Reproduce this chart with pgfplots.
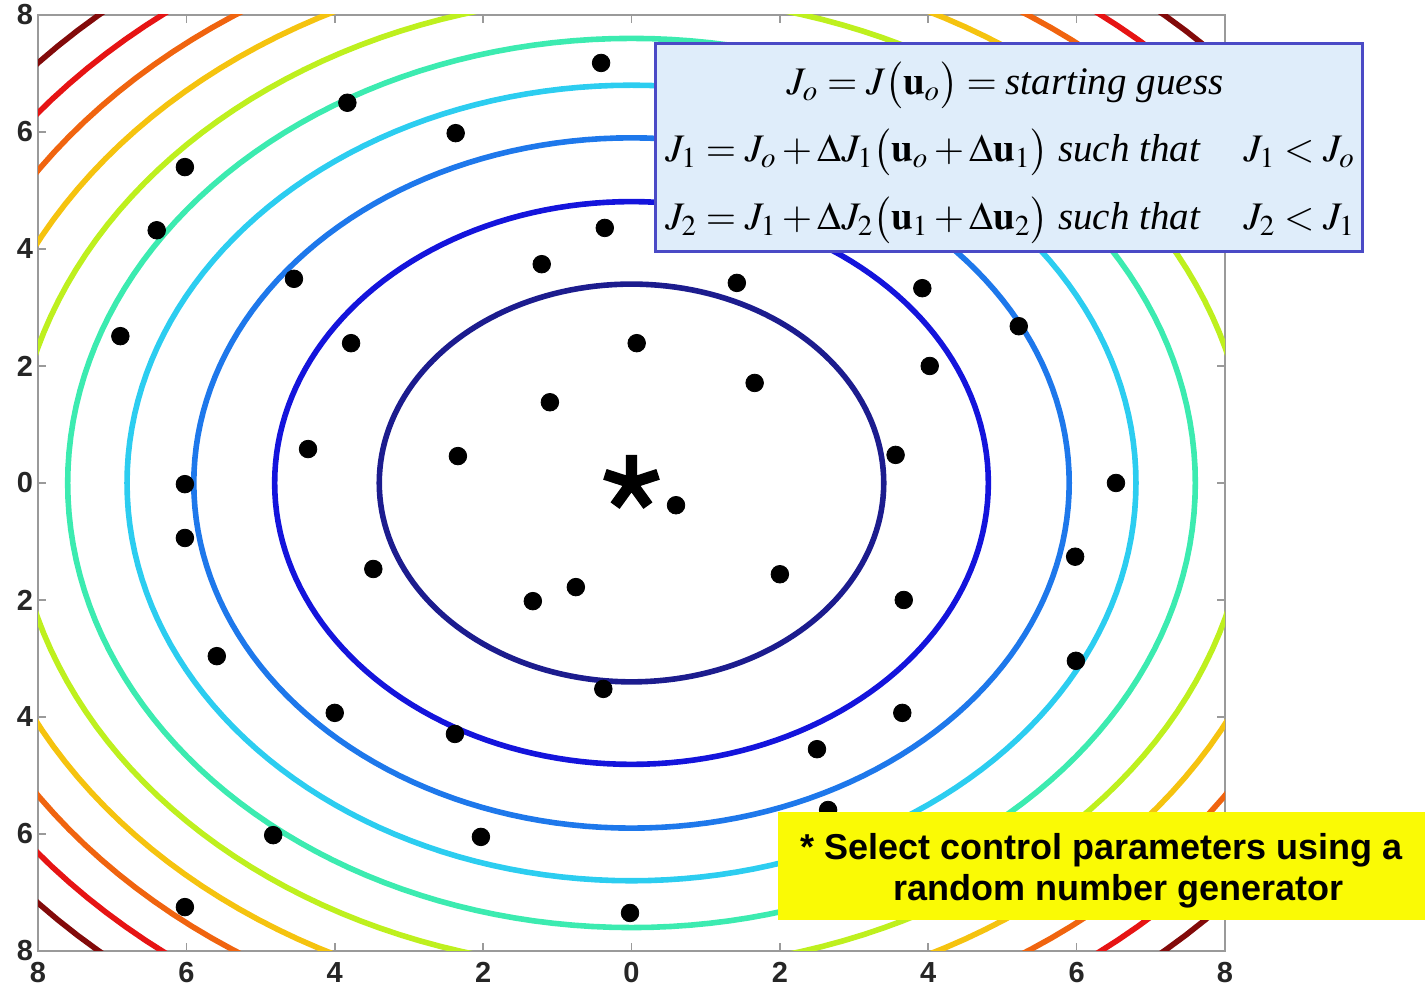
\documentclass[border=0pt]{standalone}
\usepackage{mathptmx}
\usepackage{fontspec}
\setmainfont{Liberation Serif}
\newfontfamily\arialfont{Liberation Sans}
\usepackage{pgfplots}
\pgfplotsset{compat=1.18}

% contour colours, innermost (lowest cost) to outermost
\definecolor{c1}{HTML}{1C1C8E}
\definecolor{c2}{HTML}{1414DC}
\definecolor{c3}{HTML}{1E78EB}
\definecolor{c4}{HTML}{2CCDF0}
\definecolor{c5}{HTML}{3CEBB0}
\definecolor{c6}{HTML}{BEF01E}
\definecolor{c7}{HTML}{F5C30F}
\definecolor{c8}{HTML}{F0640F}
\definecolor{c9}{HTML}{E61414}
\definecolor{c10}{HTML}{820A0A}
\definecolor{framegray}{HTML}{9A9A9A}
\definecolor{boxblue}{HTML}{4A4AC6}
\definecolor{boxfill}{HTML}{DFEDFA}
\definecolor{noteyellow}{HTML}{FAFA05}

% five-armed asterisk marking the optimum
\pgfdeclareplotmark{bigasterisk}{%
  \pgfpathmoveto{\pgfpointorigin}\pgfpathlineto{\pgfpointpolar{90}{\pgfplotmarksize}}%
  \pgfpathmoveto{\pgfpointorigin}\pgfpathlineto{\pgfpointpolar{18}{\pgfplotmarksize}}%
  \pgfpathmoveto{\pgfpointorigin}\pgfpathlineto{\pgfpointpolar{162}{\pgfplotmarksize}}%
  \pgfpathmoveto{\pgfpointorigin}\pgfpathlineto{\pgfpointpolar{234}{\pgfplotmarksize}}%
  \pgfpathmoveto{\pgfpointorigin}\pgfpathlineto{\pgfpointpolar{306}{\pgfplotmarksize}}%
  \pgfusepathqstroke}

% randomly chosen control parameters (u1, u2)
\pgfplotstableread{
x      y
-0.41  7.18
-3.83  6.50
-2.37  5.98
-6.02  5.40
-6.40  4.32
-0.36  4.36
-4.55  3.49
-1.21  3.74
 1.42  3.42
 3.92  3.33
-6.89  2.51
-3.78  2.39
 0.07  2.39
 5.22  2.68
 4.02  2.00
 1.66  1.71
-1.10  1.38
-4.36  0.58
-2.34  0.46
 3.56  0.48
-6.02 -0.02
 6.53  0.00
 0.60 -0.38
-6.02 -0.94
-3.48 -1.47
 5.98 -1.26
-0.75 -1.78
-1.33 -2.02
 2.00 -1.56
 3.67 -2.00
-5.59 -2.96
 5.99 -3.04
-0.38 -3.52
-4.00 -3.93
 3.65 -3.93
-2.38 -4.29
 2.50 -4.55
 2.65 -5.59
-4.83 -6.02
-2.03 -6.05
-6.02 -7.25
-0.02 -7.35
}\samples

\begin{document}
\begin{tikzpicture}
\path[use as bounding box] (-19pt,-18.5pt) rectangle (693.5pt,475.5pt);
\begin{axis}[
  scale only axis,
  width=593.5pt, height=468pt,
  xmin=-8, xmax=8, ymin=-8, ymax=8,
  xtick={-8,-6,...,8}, ytick={-8,-6,...,8},
  xticklabels={8,6,4,2,0,2,4,6,8},
  yticklabels={8,6,4,2,0,2,4,6,8},
  tick align=inside,
  major tick length=4pt,
  every tick/.style={framegray, line width=0.8pt},
  axis line style={framegray, line width=1.1pt},
  ticklabel style={font=\arialfont\bfseries\fontsize{14.5}{16}\selectfont, text=black!85},
  xticklabel style={yshift=-2pt},
  yticklabel style={xshift=1pt},
  clip=true,
]
% contours of constant cost, radius of each level
\addplot[c1,  line width=2.8pt, domain=0:360, samples=181, variable=\t] ({3.40*cos(\t)},{3.40*sin(\t)});
\addplot[c2,  line width=2.8pt, domain=0:360, samples=181, variable=\t] ({4.81*cos(\t)},{4.81*sin(\t)});
\addplot[c3,  line width=2.8pt, domain=0:360, samples=181, variable=\t] ({5.90*cos(\t)},{5.90*sin(\t)});
\addplot[c4,  line width=2.8pt, domain=0:360, samples=181, variable=\t] ({6.80*cos(\t)},{6.80*sin(\t)});
\addplot[c5,  line width=2.8pt, domain=0:360, samples=181, variable=\t] ({7.60*cos(\t)},{7.60*sin(\t)});
\addplot[c6,  line width=2.8pt, domain=0:360, samples=181, variable=\t] ({8.33*cos(\t)},{8.33*sin(\t)});
\addplot[c7,  line width=2.8pt, domain=0:360, samples=181, variable=\t] ({9.00*cos(\t)},{9.00*sin(\t)});
\addplot[c8,  line width=2.8pt, domain=0:360, samples=181, variable=\t] ({9.62*cos(\t)},{9.62*sin(\t)});
\addplot[c9,  line width=2.8pt, domain=0:360, samples=181, variable=\t] ({10.20*cos(\t)},{10.20*sin(\t)});
\addplot[c10, line width=2.8pt, domain=0:360, samples=181, variable=\t] ({10.75*cos(\t)},{10.75*sin(\t)});
% sampled points
\addplot[only marks, mark=*, mark size=4.4pt, black] table {\samples};
% optimum
\addplot[only marks, mark=bigasterisk, mark size=14pt, black, line width=5.6pt] coordinates {(0,0)};
\end{axis}

% iteration rule
\node[draw=boxblue, line width=1.5pt, fill=boxfill, minimum width=353.5pt, minimum height=104pt,
      inner sep=0pt] at (485.25pt,401.5pt) {};
\begin{scope}[every node/.style={inner sep=0pt, font=\fontsize{19.5}{22}\selectfont}]
\node[anchor=base] at (483.5pt,428pt)
  {$J_o = J\bigl(\mathbf{u}_o\bigr) = \textit{starting guess}$};
\node[anchor=base west] at (313.5pt,394.5pt)
  {$J_1 = J_o + \Delta J_1\bigl(\mathbf{u}_o + \Delta\mathbf{u}_1\bigr)$ \textit{such that}\hspace{1.1em}$J_1 < J_o$};
\node[anchor=base west] at (313.5pt,360.5pt)
  {$J_2 = J_1 + \Delta J_2\bigl(\mathbf{u}_1 + \Delta\mathbf{u}_2\bigr)$ \textit{such that}\hspace{1.1em}$J_2 < J_1$};
\end{scope}

% note
\fill[noteyellow] (370pt,15.5pt) rectangle (693.5pt,69.5pt);
\begin{scope}[every node/.style={inner sep=0pt, font=\arialfont\bfseries\fontsize{18}{21}\selectfont}]
\node[anchor=base] at (531.75pt,45.5pt) {* Select control parameters using a};
\node[anchor=base] at (540.25pt,25pt) {random number generator};
\end{scope}
\end{tikzpicture}
\end{document}
